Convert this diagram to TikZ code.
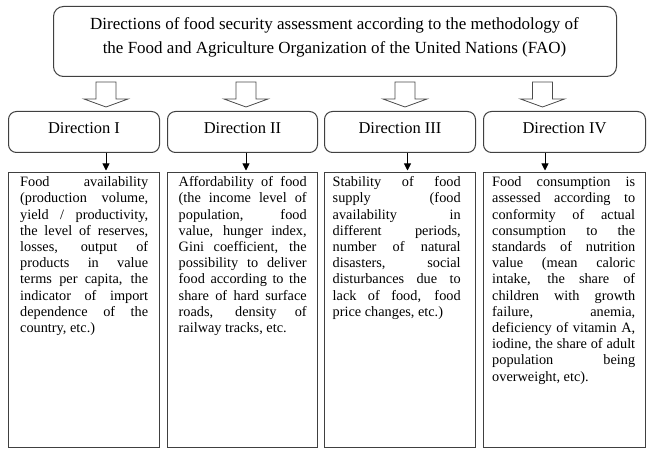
\documentclass[tikz,border=0pt]{standalone}
\usepackage{fontspec}
\setmainfont{Liberation Serif}
\usetikzlibrary{arrows.meta,calc}
\setlength{\parindent}{0pt}
\newlength\colw
\newcommand\jl[1]{\makebox[\colw][s]{\spaceskip=0pt\xspaceskip=0pt\relax #1}\\}
\newcommand\lastline[1]{\makebox[\colw][l]{\spaceskip=0pt\xspaceskip=0pt\relax #1}}
\begin{document}
\begin{tikzpicture}[x=1pt,y=-1pt,
  box/.style={draw=black!75, line width=1pt},
  dirbox/.style={box, rounded corners=8pt, anchor=north west, minimum height=41pt, inner sep=0pt,
    font=\fontsize{16.5}{19}\selectfont, text height=11.5pt, text depth=8pt},
  contentbox/.style={box, anchor=north west, minimum height=275pt, inner sep=0pt},
  bodytext/.style={anchor=north west, inner sep=0pt, align=left, text width=#1,
    execute at begin node={\setlength{\colw}{#1}}, font=\fontsize{14.3}{16.2}\selectfont},
  harrow/.style={draw=black!70, line width=0.8pt, fill=white, line join=miter},
  sarrow/.style={draw=black, line width=0.9pt, -{Triangle[length=7pt,width=7pt]}, shorten >=1.5pt},
  hollowarrow/.pic={\draw[harrow] (-10,0) -- (-10,17) -- (-22,17) -- (0,25) -- (22,17) -- (10,17) -- (10,0) -- cycle;}
]
\path[use as bounding box, fill=white] (0,0) rectangle (659,457);

% top box
\node[box, rounded corners=10pt, anchor=north west, minimum width=563pt, minimum height=70pt, inner sep=0pt] (top) at (53,6) {};
\node[font=\fontsize{17}{24}\selectfont, align=center, inner sep=0pt] (title) at (334.5,37)
  {Directions of food security assessment according to the methodology of\\
   the Food and Agriculture Organization of the United Nations (FAO)};

% hollow arrows
\pic at (106,82) {hollowarrow};
\pic at (246,82) {hollowarrow};
\pic at (405,82) {hollowarrow};
\pic at (542.5,82) {hollowarrow};

% direction boxes
\node[dirbox, minimum width=151pt] (d1) at (8,111) {Direction I};
\node[dirbox, minimum width=150pt] (d2) at (167,111) {Direction II};
\node[dirbox, minimum width=151pt] (d3) at (324,111) {Direction III};
\node[dirbox, minimum width=162pt] (d4) at (483,111) {Direction IV};

% content boxes
\node[contentbox, minimum width=151pt] (c1) at (8,172) {};
\node[contentbox, minimum width=150pt] (c2) at (167,172) {};
\node[contentbox, minimum width=151pt] (c3) at (324,172) {};
\node[contentbox, minimum width=162pt] (c4) at (483,172) {};

% small arrows
\coordinate (x1) at (106,0);
\coordinate (x2) at (246,0);
\coordinate (x3) at (407.5,0);
\coordinate (x4) at (545,0);
\draw[sarrow] (d1.south -| x1) -- (c1.north -| x1);
\draw[sarrow] (d2.south -| x2) -- (c2.north -| x2);
\draw[sarrow] (d3.south -| x3) -- (c3.north -| x3);
\draw[sarrow] (d4.south -| x4) -- (c4.north -| x4);

% texts
\node[bodytext=128pt] (t1) at (20,176.5) {%
\jl{Food availability}
\jl{(production volume,}
\jl{yield / productivity,}
\jl{the level of reserves,}
\jl{losses, output of}
\jl{products in value}
\jl{terms per capita, the}
\jl{indicator of import}
\jl{dependence of the}
\lastline{country, etc.)}};

\node[bodytext=128pt] (t2) at (178.5,176.5) {%
\jl{Affordability of food}
\jl{(the income level of}
\jl{population, food}
\jl{value, hunger index,}
\jl{Gini coefficient, the}
\jl{possibility to deliver}
\jl{food according to the}
\jl{share of hard surface}
\jl{roads, density of}
\lastline{railway tracks, etc.}};

\node[bodytext=128pt] (t3) at (332.5,176.5) {%
\jl{Stability of food}
\jl{supply (food}
\jl{availability in}
\jl{different periods,}
\jl{number of natural}
\jl{disasters, social}
\jl{disturbances due to}
\jl{lack of food, food}
\lastline{price changes, etc.)}};

\node[bodytext=143pt] (t4) at (492,176.5) {%
\jl{Food consumption is}
\jl{assessed according to}
\jl{conformity of actual}
\jl{consumption to the}
\jl{standards of nutrition}
\jl{value (mean caloric}
\jl{intake, the share of}
\jl{children with growth}
\jl{failure, anemia,}
\jl{deficiency of vitamin A,}
\jl{iodine, the share of adult}
\jl{population being}
\lastline{overweight, etc).}};
\end{tikzpicture}
\end{document}
